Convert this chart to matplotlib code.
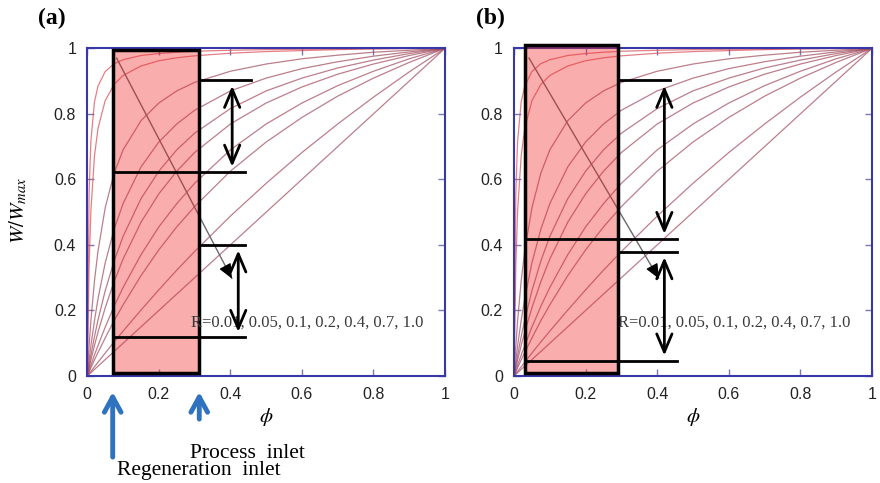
import numpy as np
import matplotlib
matplotlib.use("Agg")
import matplotlib.pyplot as plt
from matplotlib.patches import Rectangle

plt.rcParams['mathtext.fontset'] = 'stix'

# isotherm curves W/Wmax vs phi
phi = [0, 0.005, 0.01, 0.02, 0.03, 0.05, 0.075, 0.1, 0.15, 0.2, 0.25, 0.3,
       0.4, 0.5, 0.6, 0.7, 0.8, 0.9, 1.0]
w_r0004 = [0, 0.557, 0.716, 0.836, 0.885, 0.929, 0.953, 0.965, 0.978, 0.984, 0.988, 0.991,
           0.994, 0.996, 0.997, 0.998, 0.999, 1.0, 1.0]
w_r001 = [0, 0.335, 0.503, 0.671, 0.756, 0.840, 0.890, 0.917, 0.946, 0.962, 0.971, 0.977,
          0.985, 0.990, 0.993, 0.996, 0.998, 0.999, 1.0]
w_r005 = [0, 0.091, 0.168, 0.290, 0.382, 0.513, 0.619, 0.690, 0.779, 0.833, 0.870, 0.896,
          0.930, 0.952, 0.968, 0.979, 0.988, 0.994, 1.0]
w_r01 = [0, 0.048, 0.092, 0.169, 0.236, 0.345, 0.448, 0.526, 0.638, 0.714, 0.769, 0.811,
         0.870, 0.909, 0.938, 0.959, 0.976, 0.989, 1.0]
w_r015 = [0, 0.032, 0.063, 0.120, 0.171, 0.260, 0.351, 0.426, 0.541, 0.625, 0.690, 0.741,
          0.816, 0.870, 0.909, 0.940, 0.964, 0.984, 1.0]
w_r02 = [0, 0.025, 0.048, 0.093, 0.134, 0.208, 0.288, 0.357, 0.469, 0.556, 0.625, 0.682,
         0.769, 0.833, 0.882, 0.921, 0.952, 0.978, 1.0]
w_r03 = [0, 0.016, 0.033, 0.064, 0.093, 0.149, 0.213, 0.270, 0.370, 0.455, 0.526, 0.588,
         0.690, 0.769, 0.833, 0.886, 0.930, 0.968, 1.0]
w_r04 = [0, 0.012, 0.025, 0.049, 0.072, 0.116, 0.169, 0.217, 0.306, 0.385, 0.455, 0.517,
         0.625, 0.714, 0.789, 0.854, 0.909, 0.957, 1.0]
w_r07 = [0, 0.007, 0.014, 0.028, 0.042, 0.070, 0.104, 0.137, 0.201, 0.263, 0.323, 0.380,
         0.488, 0.588, 0.682, 0.769, 0.851, 0.928, 1.0]
w_r10 = [0, 0.005, 0.01, 0.02, 0.03, 0.05, 0.075, 0.1, 0.15, 0.2, 0.25, 0.3,
         0.4, 0.5, 0.6, 0.7, 0.8, 0.9, 1.0]
curves = [w_r0004, w_r001, w_r005, w_r01, w_r015, w_r02, w_r03, w_r04, w_r07, w_r10]

r_text = "R=0.01, 0.05, 0.1, 0.2, 0.4, 0.7, 1.0"

# operating window for each panel: phi range of the box, marked levels
box_a = (0.071, 0.313)
box_b = (0.031, 0.291)
levels_a = [0.902, 0.622, 0.400, 0.118]
levels_b = [0.902, 0.417, 0.379, 0.046]

fig = plt.figure(figsize=(8.8, 4.83), dpi=100)
ax_a = fig.add_axes([0.0992, 0.2215, 0.4065, 0.6785])
ax_b = fig.add_axes([0.5841, 0.2215, 0.4068, 0.6785])

serif = 'Liberation Serif'
sans = 'Liberation Sans'


def draw_panel(ax, box, levels, box_top, arr_x, line_ends):
    for i, w in enumerate(curves):
        col = '#d84a55' if i < 2 else '#a0485a'
        ax.plot(phi, w, color=col, lw=0.9, alpha=0.7, zorder=2)
    # diagonal arrow across the family
    ax.plot([box[0] + 0.011, 0.404], [0.97, 0.298], color='#6a6a6a', lw=1.0, zorder=2)
    ax.annotate("", xy=(0.408, 0.29), xytext=(0.39, 0.326),
                arrowprops=dict(arrowstyle='-|>,head_length=0.9,head_width=0.4',
                                color='black', lw=0.8), zorder=6)
    ax.add_patch(Rectangle((box[0], 0.008), box[1] - box[0], box_top - 0.008,
                           facecolor=(0.94, 0.16, 0.16, 0.38), edgecolor='black',
                           lw=2.5, zorder=3, clip_on=False))
    # horizontal markers
    ax.plot([box[1], line_ends[0]], [levels[0], levels[0]], color='black', lw=2, zorder=5)
    ax.plot([box[0], line_ends[1]], [levels[1], levels[1]], color='black', lw=2, zorder=5)
    ax.plot([box[1], line_ends[1]], [levels[2], levels[2]], color='black', lw=2, zorder=5)
    ax.plot([box[0], line_ends[1]], [levels[3], levels[3]], color='black', lw=2, zorder=5)
    style = '<->,head_length=1.3,head_width=0.55'
    ax.annotate("", xy=(arr_x[0], levels[0] - 0.008), xytext=(arr_x[0], levels[1] + 0.008),
                arrowprops=dict(arrowstyle=style, color='black', lw=2), zorder=6)
    ax.annotate("", xy=(arr_x[1], levels[2] - 0.008), xytext=(arr_x[1], levels[3] + 0.008),
                arrowprops=dict(arrowstyle=style, color='black', lw=2), zorder=6)
    ax.text(0.29, 0.163, r_text, family=serif, fontsize=12, color='#3a3a3a',
            va='center', ha='left', zorder=4)

    ax.set_xlim(0, 1)
    ax.set_ylim(0, 1)
    ticks = [0, 0.2, 0.4, 0.6, 0.8, 1.0]
    labels = ['0', '0.2', '0.4', '0.6', '0.8', '1']
    ax.set_xticks(ticks)
    ax.set_xticklabels(labels)
    ax.set_yticks(ticks)
    ax.set_yticklabels(labels)
    ax.tick_params(direction='in', length=5, width=1, color='#7a7ab0',
                   top=True, right=True, labelsize=11.5, labelcolor='#222222', pad=8)
    for lab in ax.get_xticklabels() + ax.get_yticklabels():
        lab.set_family(sans)
    for sp in ax.spines.values():
        sp.set_color('#3838a8')
        sp.set_linewidth(1.5)
    ax.set_xlabel(r'$\phi$', fontsize=15, labelpad=3)


draw_panel(ax_a, box_a, levels_a, 0.995, (0.405, 0.422), (0.459, 0.441))
draw_panel(ax_b, box_b, levels_b, 1.01, (0.42, 0.42), (0.437, 0.456))

fig.text(18 / 880, 1 - 211 / 483, r'$W/W_{max}$', rotation=90, fontsize=15,
         ha='center', va='center')
fig.text(52 / 880, 1 - 18 / 483, '(a)', family=serif, fontweight='bold', fontsize=17,
         ha='center', va='center')
fig.text(490 / 880, 1 - 18 / 483, '(b)', family=serif, fontweight='bold', fontsize=17,
         ha='center', va='center')

# blue inlet arrows under panel (a)
blue = '#2f72bf'
ax_a.annotate("", xy=(box_a[0], -0.04), xytext=(box_a[0], -0.256),
              arrowprops=dict(arrowstyle='->,head_length=1.1,head_width=0.6',
                              color=blue, lw=3.5), annotation_clip=False)
ax_a.annotate("", xy=(box_a[1], -0.04), xytext=(box_a[1], -0.14),
              arrowprops=dict(arrowstyle='->,head_length=1.1,head_width=0.6',
                              color=blue, lw=3.5), annotation_clip=False)
fig.text(190 / 880, 1 - 453 / 483, 'Process  inlet', family=serif, fontsize=15.5,
         ha='left', va='center')
fig.text(117 / 880, 1 - 470 / 483, 'Regeneration  inlet', family=serif, fontsize=15.5,
         ha='left', va='center')

fig.savefig('out.png', dpi=100)
